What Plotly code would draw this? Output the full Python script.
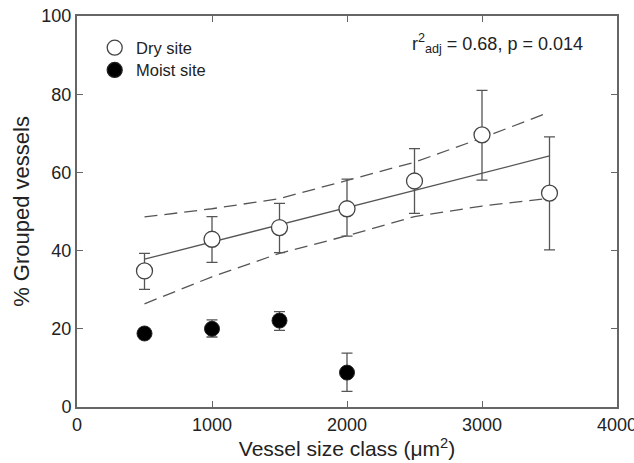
import plotly.graph_objects as go

# Data
size_class = [500, 1000, 1500, 2000, 2500, 3000, 3500]
dry_mean = [34.8, 42.9, 45.9, 50.7, 57.8, 69.6, 54.7]
dry_err_plus = [4.5, 5.8, 6.2, 7.6, 8.3, 11.4, 14.4]
dry_err_minus = [4.7, 5.9, 6.4, 7.0, 8.3, 11.6, 14.5]

moist_class = [500, 1000, 1500, 2000]
moist_mean = [18.8, 20.0, 22.1, 8.8]
moist_err_plus = [1.3, 2.3, 2.3, 5.0]
moist_err_minus = [1.3, 2.1, 2.5, 4.8]

fit_x = [500, 3500]
fit_y = [37.8, 64.2]

ci_x = [500, 1000, 1500, 2000, 2500, 3000, 3500]
ci_upper = [48.6, 50.7, 53.3, 57.9, 62.6, 68.8, 75.4]
ci_lower = [26.4, 33.3, 39.3, 43.8, 48.7, 51.4, 53.4]

legend_labels = ["Dry site", "Moist site"]

line_col = "#555555"
axis_col = "#666666"
text_col = "#222222"
font_fam = "Liberation Sans, Arial, sans-serif"

fig = go.Figure()
fig.add_trace(go.Scatter(x=ci_x, y=ci_upper, mode="lines", showlegend=False,
                         line=dict(color=line_col, width=1.3, dash="13px,7px"), hoverinfo="skip"))
fig.add_trace(go.Scatter(x=ci_x, y=ci_lower, mode="lines", showlegend=False,
                         line=dict(color=line_col, width=1.3, dash="13px,7px"), hoverinfo="skip"))
fig.add_trace(go.Scatter(x=fit_x, y=fit_y, mode="lines", showlegend=False,
                         line=dict(color=line_col, width=1.3), hoverinfo="skip"))
fig.add_trace(go.Scatter(
    x=size_class, y=dry_mean, mode="markers", name=legend_labels[0], showlegend=False,
    marker=dict(symbol="circle", size=16, color="white", line=dict(color="#444444", width=1.3)),
    error_y=dict(type="data", symmetric=False, array=dry_err_plus, arrayminus=dry_err_minus,
                 color=line_col, thickness=1.3, width=5.5),
))
fig.add_trace(go.Scatter(
    x=moist_class, y=moist_mean, mode="markers", name=legend_labels[1], showlegend=False,
    marker=dict(symbol="circle", size=15, color="black", line=dict(color="#222222", width=1)),
    error_y=dict(type="data", symmetric=False, array=moist_err_plus, arrayminus=moist_err_minus,
                 color=line_col, thickness=1.3, width=5.5),
))

# Manual legend (circle symbols + labels)
leg_x = 0.0698
leg_ys = [0.919, 0.862]
leg_fill = ["white", "black"]
leg_line = ["#444444", "#222222"]
for lab, yy, fc, lc in zip(legend_labels, leg_ys, leg_fill, leg_line):
    fig.add_shape(type="circle", xref="paper", yref="paper", xsizemode="pixel", ysizemode="pixel",
                  xanchor=leg_x, yanchor=yy, x0=-7.5, x1=7.5, y0=-7.5, y1=7.5,
                  fillcolor=fc, line=dict(color=lc, width=1.3))
    fig.add_annotation(x=0.1056, y=yy, xref="paper", yref="paper", xanchor="left", yanchor="middle",
                       text=lab, showarrow=False, font=dict(size=16.5, color=text_col, family=font_fam))

fig.add_annotation(x=0.9407, y=0.93, xref="paper", yref="paper", xanchor="right", yanchor="middle",
                   text="r<sup>2</sup><sub>adj</sub> = 0.68, p = 0.014", showarrow=False,
                   font=dict(size=18, color=text_col, family=font_fam))

axis_common = dict(showgrid=False, zeroline=False, showline=True, linecolor=axis_col, linewidth=2,
                   mirror="ticks", ticks="inside", ticklen=6, tickcolor=axis_col, tickwidth=1.2,
                   tickfont=dict(size=18, color=text_col, family=font_fam),
                   ticklabeloverflow="allow", automargin=False)

fig.update_layout(
    width=634, height=463,
    margin=dict(l=77, r=17, t=16, b=56),
    paper_bgcolor="white", plot_bgcolor="white",
    font=dict(family=font_fam, color=text_col),
    showlegend=False,
    xaxis=dict(range=[0, 4000], tickvals=[0, 1000, 2000, 3000, 4000],
               title=dict(text="Vessel size class (μm<sup>2</sup>)", font=dict(size=21), standoff=6),
               **axis_common),
    yaxis=dict(range=[0, 100], tickvals=[0, 20, 40, 60, 80, 100],
               title=dict(text="% Grouped vessels", font=dict(size=22), standoff=6),
               **axis_common),
)

fig.write_html("out.html")
